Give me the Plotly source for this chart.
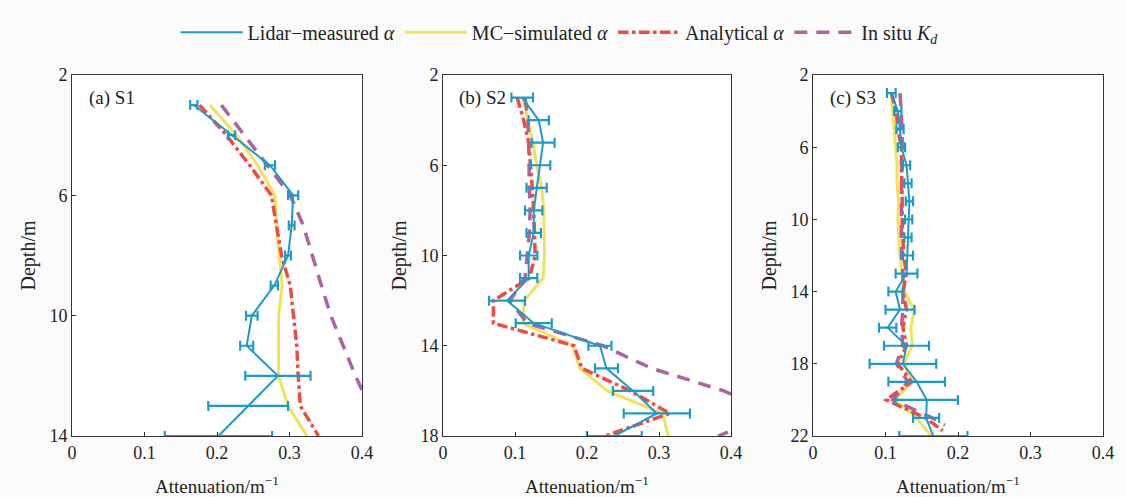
import plotly.graph_objects as go

# ---------------- data ----------------
# Panel (a) S1
depth_a = [3, 4, 5, 6, 7, 8, 9, 10, 11, 12, 13, 14]
lidar_a = [0.168, 0.220, 0.273, 0.305, 0.303, 0.298, 0.279, 0.248, 0.241, 0.284, 0.243, 0.202]
lidar_a_err = [0.005, 0.005, 0.007, 0.007, 0.004, 0.004, 0.005, 0.008, 0.009, 0.045, 0.055, 0.074]
mc_a = [0.190, 0.227, 0.256, 0.280, 0.282, 0.286, 0.290, 0.285, 0.285, 0.285, 0.298, 0.324]
ana_a = [0.176, 0.213, 0.245, 0.275, 0.282, 0.289, 0.301, 0.305, 0.310, 0.312, 0.315, 0.340]
kd_a = [0.206, 0.238, 0.269, 0.301, 0.319, 0.331, 0.344, 0.357, 0.374, 0.391, 0.410, 0.430]

# Panel (b) S2
depth_b = [3, 4, 5, 6, 7, 8, 9, 10, 11, 12, 13, 14, 15, 16, 17, 18]
lidar_b = [0.110, 0.133, 0.139, 0.135, 0.130, 0.126, 0.126, 0.119, 0.119, 0.089, 0.126, 0.218, 0.227, 0.264, 0.297, 0.238]
lidar_b_err = [0.015, 0.014, 0.016, 0.014, 0.014, 0.012, 0.010, 0.012, 0.012, 0.025, 0.025, 0.016, 0.016, 0.028, 0.046, 0.038]
mc_b = [0.111, 0.118, 0.125, 0.130, 0.137, 0.140, 0.141, 0.141, 0.139, 0.113, 0.111, 0.180, 0.190, 0.228, 0.305, 0.313]
ana_b = [0.103, 0.112, 0.119, 0.122, 0.124, 0.126, 0.127, 0.128, 0.120, 0.070, 0.070, 0.182, 0.193, 0.260, 0.315, 0.225]
kd_b = [0.114, 0.118, 0.119, 0.119, 0.120, 0.121, 0.120, 0.117, 0.114, 0.093, 0.117, 0.222, 0.290, 0.390, 0.460, 0.382]

# Panel (c) S3
depth_c = [3, 4, 5, 6, 7, 8, 9, 10, 11, 12, 13, 14, 15, 16, 17, 18, 19, 20, 21, 22]
lidar_c = [0.108, 0.117, 0.120, 0.122, 0.129, 0.131, 0.133, 0.132, 0.131, 0.131, 0.129, 0.114, 0.120, 0.103, 0.129, 0.124, 0.143, 0.157, 0.156, 0.166]
lidar_c_err = [0.006, 0.005, 0.005, 0.005, 0.005, 0.005, 0.005, 0.005, 0.005, 0.007, 0.015, 0.010, 0.020, 0.012, 0.031, 0.046, 0.039, 0.043, 0.018, 0.047]
mc_c = [0.108, 0.110, 0.113, 0.115, 0.116, 0.116, 0.118, 0.117, 0.118, 0.120, 0.123, 0.126, 0.140, 0.135, 0.137, 0.125, 0.137, 0.113, 0.143, 0.163]
depth_c_ana = [3, 4, 5, 6, 7, 8, 9, 10, 11, 12, 13, 14, 15, 16, 17, 18, 19, 20, 21, 21.7]
ana_c = [0.108, 0.115, 0.117, 0.122, 0.122, 0.123, 0.123, 0.123, 0.124, 0.125, 0.129, 0.124, 0.129, 0.124, 0.129, 0.117, 0.136, 0.101, 0.155, 0.179]
depth_c_kd = [3, 4, 5, 6, 7, 8, 9, 10, 11, 12, 13, 14, 15, 16, 17, 18, 19, 20, 21, 21.4]
kd_c = [0.120, 0.122, 0.123, 0.123, 0.122, 0.122, 0.122, 0.122, 0.122, 0.122, 0.124, 0.124, 0.124, 0.122, 0.124, 0.115, 0.131, 0.110, 0.165, 0.182]

panel_labels = ["(a) S1", "(b) S2", "(c) S3"]
x_ticks = [0, 0.1, 0.2, 0.3, 0.4]
x_tick_text = ["0", "0.1", "0.2", "0.3", "0.4"]
y_ticks_a = [2, 6, 10, 14]
y_ticks_b = [2, 6, 10, 14, 18]
y_ticks_c = [2, 6, 10, 14, 18, 22]

names = ["Lidar\u2212measured <i>\u03b1</i>", "MC\u2212simulated <i>\u03b1</i>",
         "Analytical <i>\u03b1</i>", "In situ <i>K</i><sub><i>d</i></sub>"]

# ---------------- style ----------------
BLUE = "#1f9ac8"
YELLOW = "#f2e15c"
RED = "#ef4b45"
PURPLE = "#ad63a2"
FONT = "Liberation Serif, Times New Roman, serif"
TXT = "#222"

fig = go.Figure()

panels = [
    (depth_a, lidar_a, lidar_a_err, depth_a, mc_a, depth_a, ana_a, depth_a, kd_a, 14, y_ticks_a),
    (depth_b, lidar_b, lidar_b_err, depth_b, mc_b, depth_b, ana_b, depth_b, kd_b, 18, y_ticks_b),
    (depth_c, lidar_c, lidar_c_err, depth_c, mc_c, depth_c_ana, ana_c, depth_c_kd, kd_c, 22, y_ticks_c),
]

domains = [(72 / 1126, 362 / 1126), (443 / 1126, 731 / 1126), (813 / 1126, 1103 / 1126)]
ydom = (1 - 436 / 497, 1 - 75 / 497)

for i, (dl, vl, el, dm, vm, da, va, dk, vk, ymax, yt) in enumerate(panels):
    xa = "x" if i == 0 else f"x{i+1}"
    ya = "y" if i == 0 else f"y{i+1}"
    show = i == 0
    fig.add_trace(go.Scatter(x=vm, y=dm, mode="lines", name=names[1], legendrank=2,
                             line=dict(color=YELLOW, width=3), xaxis=xa, yaxis=ya, showlegend=show))
    fig.add_trace(go.Scatter(x=vk, y=dk, mode="lines", name=names[3], legendrank=4,
                             line=dict(color=PURPLE, width=3.5, dash="13px,9px"), xaxis=xa, yaxis=ya,
                             showlegend=show))
    fig.add_trace(go.Scatter(x=va, y=da, mode="lines", name=names[2], legendrank=3,
                             line=dict(color=RED, width=3.5, dash="dashdot"), xaxis=xa, yaxis=ya,
                             showlegend=show))
    fig.add_trace(go.Scatter(x=vl, y=dl, mode="lines", name=names[0], legendrank=1,
                             line=dict(color=BLUE, width=2),
                             error_x=dict(type="data", array=el, visible=True, color=BLUE,
                                          thickness=2.2, width=5),
                             xaxis=xa, yaxis=ya, showlegend=show))

    axis_common = dict(showline=True, linecolor="#333", linewidth=1, mirror=True,
                       showgrid=False, zeroline=False,
                       ticks="inside", ticklen=4, tickcolor="#333",
                       tickfont=dict(family=FONT, size=18, color=TXT))
    fig.update_layout(**{
        ("xaxis" if i == 0 else f"xaxis{i+1}"): dict(
            axis_common, domain=list(domains[i]), anchor=ya, range=[0, 0.4],
            tickvals=x_ticks, ticktext=x_tick_text, automargin=False,
            title=dict(text="Attenuation/m<sup>\u22121</sup>",
                       font=dict(family=FONT, size=19, color=TXT), standoff=19)),
        ("yaxis" if i == 0 else f"yaxis{i+1}"): dict(
            axis_common, domain=list(ydom), anchor=xa, range=[ymax, 2],
            tickvals=yt, automargin=False,
            title=dict(text="Depth/m", font=dict(family=FONT, size=20, color=TXT), standoff=8)),
    })
    fig.add_annotation(text=panel_labels[i], xref=f"{xa} domain", yref=f"{ya} domain",
                       x=0.05, y=0.935, xanchor="left", yanchor="middle", showarrow=False,
                       font=dict(family=FONT, size=19, color=TXT))

fig.update_layout(
    width=1126, height=497,
    margin=dict(l=0, r=0, t=0, b=0),
    paper_bgcolor="#fbfbfb", plot_bgcolor="white",
    showlegend=True,
    legend=dict(orientation="h", x=0.497, xanchor="center", y=0.935, yanchor="middle",
                font=dict(family=FONT, size=20, color=TXT), itemwidth=62,
                bgcolor="rgba(0,0,0,0)", traceorder="normal"),
)

fig.write_html("out.html", config={"displayModeBar": False},
               post_script="document.body.style.margin='0';document.body.style.overflow='hidden';")
